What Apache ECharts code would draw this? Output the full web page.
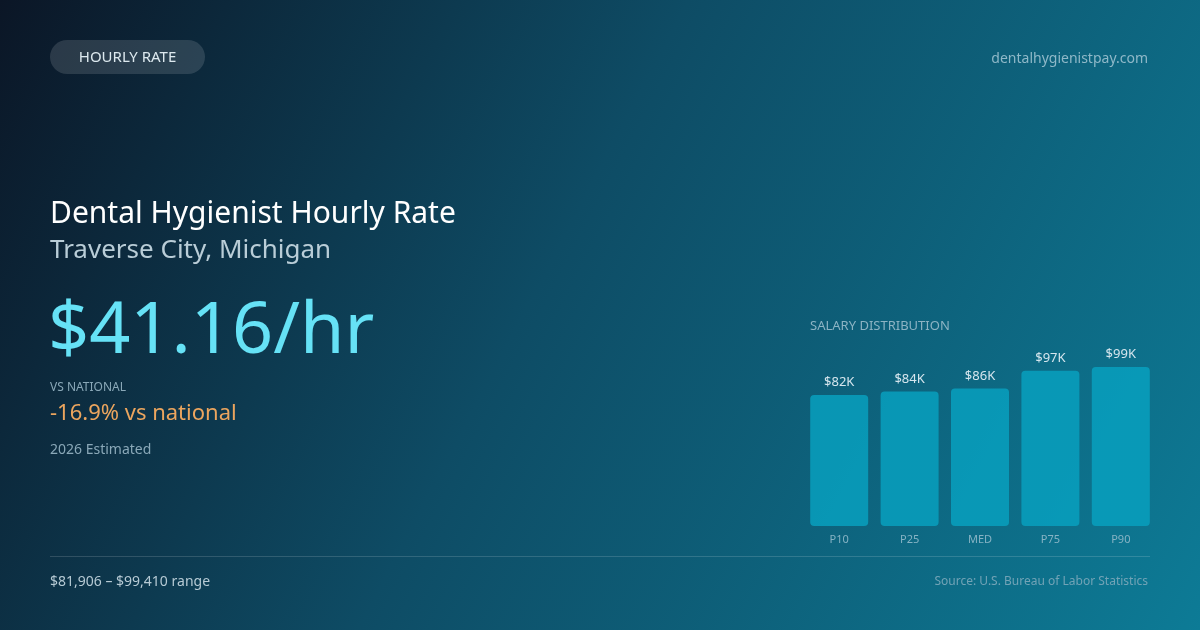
<!DOCTYPE html>
<html>
<head>
<meta charset="utf-8">
<script src="https://cdn.jsdelivr.net/npm/echarts@6/dist/echarts.min.js"></script>
<style>
  html, body { margin: 0; padding: 0; background: #0c1a2a; }
  #chart_panel { width: 1200px; height: 630px; }
</style>
</head>
<body>
<div id="chart_panel"></div>
<script>
// percentile data
var percentileLabels = ['P10', 'P25', 'MED', 'P75', 'P90'];
var salaryValues = [81906, 84000, 86000, 97000, 99410];
var valueLabels = ['$82K', '$84K', '$86K', '$97K', '$99K'];

var FONT = '"Noto Sans", "Open Sans", sans-serif';

var myChart = echarts.init(document.getElementById('chart_panel'));

function label(x, y, text, size, color, align) {
	return {
		type: 'text',
		style: {
			x: x, y: y,
			text: text,
			font: size + 'px ' + FONT,
			fill: color,
			textAlign: align || 'left',
			textVerticalAlign: 'middle'
		}
	};
}

var option = {
	backgroundColor: new echarts.graphic.LinearGradient(0, 0, 1, 1, [
		{ offset: 0, color: '#0b1626' },
		{ offset: 0.45, color: '#0e4c65' },
		{ offset: 1, color: '#0d7b96' }
	]),
	animation: false,
	grid: { left: 804, width: 352, top: 334, bottom: 104 },
	xAxis: {
		type: 'category',
		data: percentileLabels,
		axisLine: { show: false },
		axisTick: { show: false },
		axisLabel: { color: '#86b3c4', fontSize: 11, fontFamily: FONT, margin: 8 }
	},
	yAxis: {
		type: 'value',
		min: 0, max: 120000,
		show: false,
		splitLine: { show: false }
	},
	series: [{
		type: 'bar',
		data: salaryValues,
		barWidth: 58,
		itemStyle: { color: 'rgba(8,160,190,0.85)', borderRadius: 4 },
		label: {
			show: true,
			position: 'top',
			distance: 6,
			color: '#d6e6ee',
			fontSize: 13,
			fontFamily: FONT,
			formatter: function (p) { return valueLabels[p.dataIndex]; }
		}
	}],
	graphic: [
		{
			type: 'rect',
			shape: { x: 50, y: 40, width: 155, height: 34, r: 17 },
			style: { fill: 'rgba(255,255,255,0.13)' }
		},
		label(127.5, 58, 'HOURLY RATE', 15, '#dce8ee', 'center'),
		label(1148, 59, 'dentalhygienistpay.com', 14, '#8fb8c8', 'right'),
		label(50, 214.5, 'Dental Hygienist Hourly Rate', 30, '#ffffff'),
		label(50, 251, 'Traverse City, Michigan', 26, '#b9cdd7'),
		label(48, 332, '$41.16/hr', 72, '#66e2f6'),
		label(50, 388, 'VS NATIONAL', 12, '#8aa8b8'),
		label(50, 414, '-16.9% vs national', 22, '#eba55e'),
		label(50, 450, '2026 Estimated', 14, '#8aa8b8'),
		label(810, 326, 'SALARY DISTRIBUTION', 13, '#8cb3c3'),
		{
			type: 'line',
			shape: { x1: 50, y1: 556.5, x2: 1150, y2: 556.5 },
			style: { stroke: 'rgba(255,255,255,0.15)', lineWidth: 1 }
		},
		label(50, 582, '$81,906 \u2013 $99,410 range', 14, '#b6cad4'),
		label(1148, 582, 'Source: U.S. Bureau of Labor Statistics', 12, '#72a3b6', 'right')
	]
};

myChart.setOption(option);
window.onresize = myChart.resize;
</script>
</body>
</html>
